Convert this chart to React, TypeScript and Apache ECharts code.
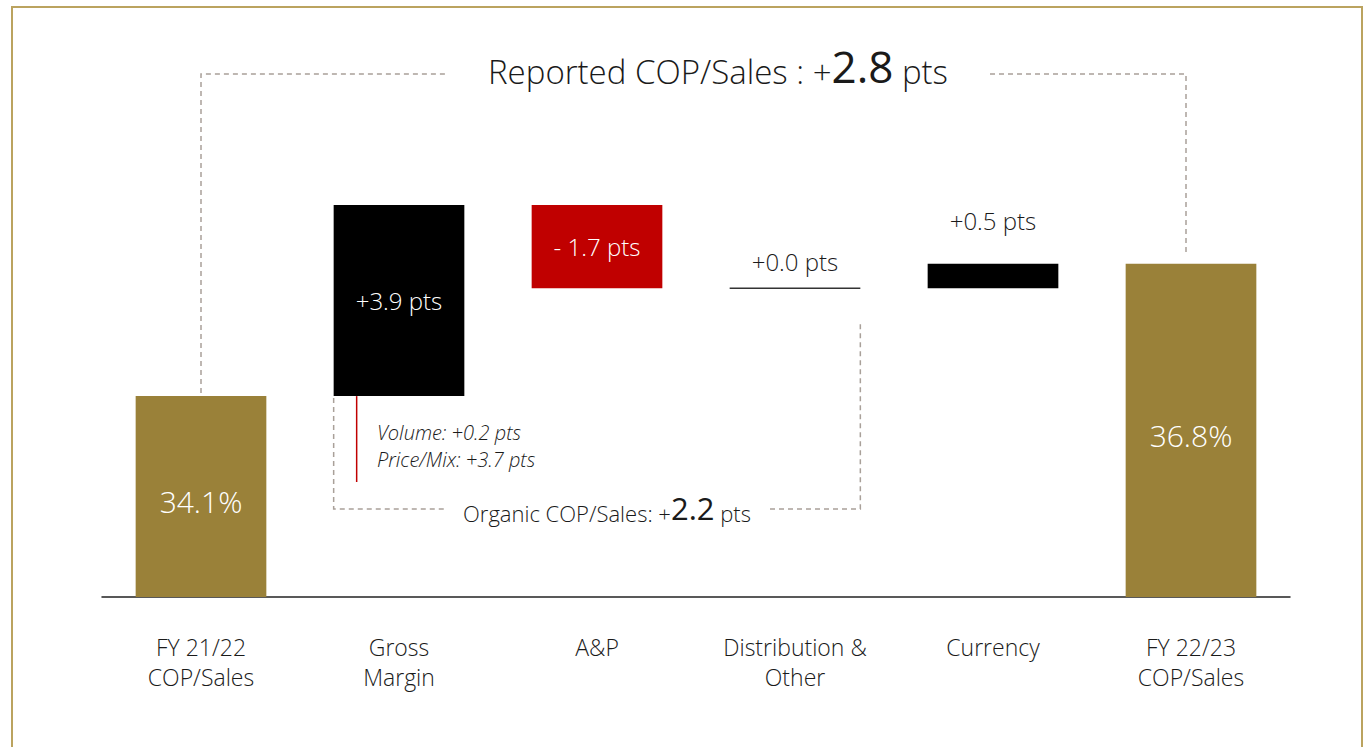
import React, { useEffect, useRef } from "react";
import * as echarts from "echarts";

const categories = [
  "FY 21/22\nCOP/Sales",
  "Gross\nMargin",
  "A&P",
  "Distribution &\nOther",
  "Currency",
  "FY 22/23\nCOP/Sales",
];
const changes = [34.1, 3.9, -1.7, 0.0, 0.5, 36.8];
const kinds = ["total", "delta", "delta", "delta", "delta", "total"];
const valueLabels = ["34.1%", "+3.9 pts", "- 1.7 pts", "+0.0 pts", "+0.5 pts", "36.8%"];
const reportedChange = "2.8";
const organicChange = "2.2";
const grossMarginBreakdown = ["Volume: +0.2 pts", "Price/Mix: +3.7 pts"];
const axisMin = 30;
const axisMax = 42;

const FONT = "'Open Sans', Lato, sans-serif";
const GOLD = "#9a8139";
const RED = "#c00000";
const BLACK = "#000000";
const TEXT = "#1a1a1a";
const DASH = "#a9a099";

export default function App() {
  const ref = useRef<HTMLDivElement>(null);

  useEffect(() => {
    if (!ref.current) return;
    const chart = echarts.init(ref.current, undefined, { renderer: "svg" });

    let run = 0;
    const rows = changes.map((c, i) => {
      if (kinds[i] === "total") {
        run = c;
        return [i, axisMin, c, 0];
      }
      const lo = run;
      const hi = run + c;
      run = hi;
      return [i, Math.min(lo, hi), Math.max(lo, hi), c > 0 ? 1 : c < 0 ? 2 : 3];
    });
    const fills = [GOLD, BLACK, RED, "#333"];

    chart.setOption({
      animation: false,
      backgroundColor: "#ffffff",
      grid: { left: 102, right: 78, top: 9, bottom: 150 },
      xAxis: {
        type: "category",
        data: categories,
        axisLine: { show: true, lineStyle: { color: "#222", width: 1.5 } },
        axisTick: { show: false },
        axisLabel: {
          color: TEXT,
          fontSize: 23,
          lineHeight: 30,
          fontFamily: FONT,
          fontWeight: 300,
          margin: 35,
          interval: 0,
        },
      },
      yAxis: {
        type: "value",
        min: axisMin,
        max: axisMax,
        show: false,
        splitLine: { show: false },
      },
      series: [
        {
          type: "custom",
          data: rows,
          encode: { x: 0, y: [1, 2] },
          renderItem: (params: any, api: any) => {
            const i = api.value(0) as number;
            const lo = api.value(1) as number;
            const hi = api.value(2) as number;
            const kind = api.value(3) as number;
            const pLo = api.coord([i, lo]);
            const pHi = api.coord([i, hi]);
            const w = api.size([1, 0])[0] * 0.66;
            const x = pLo[0] - w / 2;
            const h = pLo[1] - pHi[1];
            const children: any[] = [];
            if (kind === 3) {
              children.push({
                type: "line",
                shape: { x1: x, y1: pLo[1], x2: x + w, y2: pLo[1] },
                style: { stroke: "#333", lineWidth: 1.5 },
              });
            } else {
              children.push({
                type: "rect",
                shape: { x, y: pHi[1], width: w, height: h },
                style: { fill: fills[kind] },
              });
            }
            const inside = h > 60;
            const midY = (pLo[1] + pHi[1]) / 2 + (kind === 0 ? 5 : 0);
            children.push({
              type: "text",
              style: {
                text: valueLabels[i],
                x: pLo[0],
                y: inside ? midY : pHi[1] - 15 - h * 0.65,
                align: "center",
                verticalAlign: inside ? "middle" : "bottom",
                fill: inside ? "#ffffff" : TEXT,
                fontSize: kind === 0 ? 30 : 24,
                fontFamily: FONT,
                fontWeight: 300,
              },
            });
            return { type: "group", children };
          },
        },
      ],
    });

    const px = (i: number, v: number) =>
      chart.convertToPixel({ gridIndex: 0 }, [i, v]) as number[];
    const band = px(1, axisMin)[0] - px(0, axisMin)[0];
    const bw = band * 0.66;

    const first = px(0, changes[0]);
    const last = px(5, changes[5]);
    const gmBottom = px(1, changes[0]);
    const gmLeft = gmBottom[0] - bw / 2;
    const distRight = px(3, axisMin)[0] + bw / 2;
    const topY = 74;
    const orgY = 509;

    const dashStyle = { stroke: DASH, lineWidth: 1.5, lineDash: [5, 4], fill: "none" };

    chart.setOption({
      graphic: [
        {
          type: "rect",
          silent: true,
          shape: { x: 12, y: 7, width: 1350, height: 800 },
          style: { fill: "none", stroke: "#bba35f", lineWidth: 2 },
        },
        {
          type: "polyline",
          silent: true,
          shape: { points: [[first[0], first[1] - 3], [first[0], topY], [447, topY]] },
          style: dashStyle,
        },
        {
          type: "polyline",
          silent: true,
          shape: { points: [[990, topY], [last[0] - 5, topY], [last[0] - 5, last[1] - 8]] },
          style: dashStyle,
        },
        {
          type: "text",
          silent: true,
          style: {
            x: 718,
            y: 66,
            align: "center",
            verticalAlign: "middle",
            text: `{a|Reported COP/Sales : +}{b|${reportedChange}}{a| pts}`,
            rich: {
              a: { fontSize: 33, lineHeight: 33, fontFamily: FONT, fontWeight: 300, fill: TEXT, verticalAlign: "bottom" },
              b: { fontSize: 44, lineHeight: 44, fontFamily: FONT, fontWeight: 400, fill: TEXT, verticalAlign: "bottom" },
            },
          },
        },
        {
          type: "polyline",
          silent: true,
          shape: { points: [[gmLeft, gmBottom[1] + 2], [gmLeft, orgY], [447, orgY]] },
          style: dashStyle,
        },
        {
          type: "polyline",
          silent: true,
          shape: { points: [[770, orgY], [distRight, orgY], [distRight, 322]] },
          style: dashStyle,
        },
        {
          type: "text",
          silent: true,
          style: {
            x: 607,
            y: 508,
            align: "center",
            verticalAlign: "middle",
            text: `{a|Organic COP/Sales: +}{b|${organicChange}}{a| pts}`,
            rich: {
              a: { fontSize: 22, lineHeight: 22, fontFamily: FONT, fontWeight: 300, fill: TEXT, verticalAlign: "bottom" },
              b: { fontSize: 31, lineHeight: 31, fontFamily: FONT, fontWeight: 400, fill: TEXT, verticalAlign: "bottom" },
            },
          },
        },
        {
          type: "line",
          silent: true,
          shape: { x1: gmLeft + 23, y1: gmBottom[1], x2: gmLeft + 23, y2: 482 },
          style: { stroke: RED, lineWidth: 1.5 },
        },
        ...grossMarginBreakdown.map((t, k) => ({
          type: "text",
          silent: true,
          style: {
            x: 377,
            y: 432 + k * 27,
            align: "left",
            verticalAlign: "middle",
            text: t,
            fontSize: 20,
            fontStyle: "italic",
            fontFamily: FONT,
            fontWeight: 300,
            fill: TEXT,
          },
        })),
      ],
    });

    return () => chart.dispose();
  }, []);

  return (
    <div
      ref={ref}
      style={{ position: "fixed", left: 0, top: 0, width: 1368, height: 747, background: "#fff" }}
    />
  );
}
